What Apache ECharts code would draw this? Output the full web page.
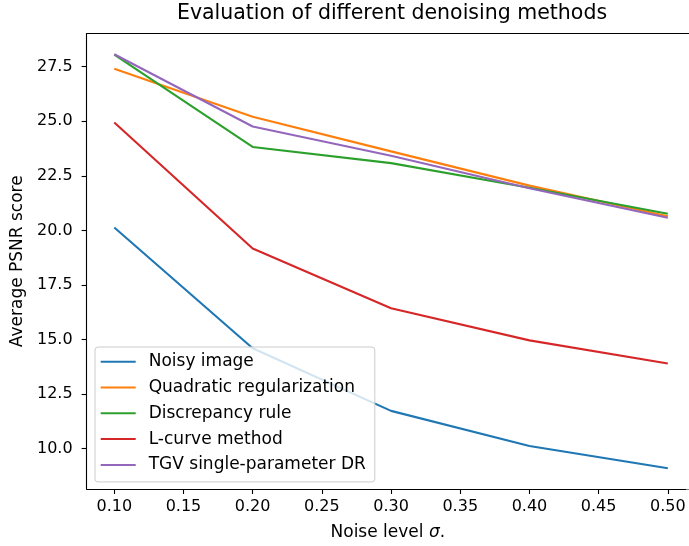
<!DOCTYPE html>
<html>
<head>
<meta charset="utf-8">
<script src="https://cdn.jsdelivr.net/npm/echarts@6/dist/echarts.min.js"></script>
<style>
  html, body { margin: 0; padding: 0; background: #fff; }
  #chart-one { width: 689px; height: 546px; }
</style>
</head>
<body>
<div id="chart-one"></div>
<script>
// noise levels (x) and average PSNR per method
var noiseLevels = [0.1, 0.2, 0.3, 0.4, 0.5];
var noisyImage = [20.13, 14.6, 11.73, 10.12, 9.1];
var quadraticReg = [27.41, 25.21, 23.62, 22.05, 20.65];
var discrepancyRule = [28.05, 23.82, 23.08, 21.95, 20.76];
var lCurve = [24.94, 19.17, 16.43, 14.96, 13.9];
var tgvDR = [28.07, 24.76, 23.42, 21.93, 20.58];

var seriesNames = ['Noisy image', 'Quadratic regularization', 'Discrepancy rule', 'L-curve method', 'TGV single-parameter DR'];
var seriesColors = ['#1f77b4', '#ff7f0e', '#2ca02c', '#d62728', '#9467bd'];

var xTicks = [0.10, 0.15, 0.20, 0.25, 0.30, 0.35, 0.40, 0.45, 0.50];
var yTicks = [10.0, 12.5, 15.0, 17.5, 20.0, 22.5, 25.0, 27.5];

var font = 'DejaVu Sans';
var allSeries = [noisyImage, quadraticReg, discrepancyRule, lCurve, tgvDR];

// x range: figure is cropped on the right, so the axis runs past the last tick a bit
var xMin = 0.08, xMax = 0.5153;
var yMin = 8.15, yMax = 29.02;

var myChart = echarts.init(document.getElementById('chart-one'));

myChart.setOption({
    animation: false,
    textStyle: { fontFamily: font },
    title: {
        text: 'Evaluation of different denoising methods',
        left: 392,
        textAlign: 'center',
        top: 3,
        padding: 0,
        textStyle: { fontFamily: font, fontSize: 20.5, fontWeight: 'normal', color: '#000' }
    },
    grid: {
        left: 86.6,
        right: 0,
        top: 33.5,
        bottom: 56,
        show: false
    },
    legend: {
        orient: 'vertical',
        left: 95,
        top: 347,
        icon: 'rect',
        itemWidth: 35,
        itemHeight: 2,
        itemGap: 5.8,
        padding: [4.7, 9, 7, 5.7],
        backgroundColor: 'rgba(255,255,255,0.8)',
        borderColor: '#cccccc',
        borderWidth: 1,
        borderRadius: 3,
        textStyle: { fontFamily: font, fontSize: 17, color: '#000', lineHeight: 20, padding: [0, 0, 0, 8] },
        data: seriesNames
    },
    xAxis: {
        type: 'value',
        min: xMin,
        max: xMax,
        name: 'Noise level {i|σ}.',
        nameLocation: 'middle',
        nameGap: 35,
        nameTextStyle: {
            fontFamily: font, fontSize: 17, color: '#000',
            rich: { i: { fontFamily: font, fontSize: 17, fontStyle: 'italic', color: '#000' } }
        },
        splitLine: { show: false },
        axisLine: { lineStyle: { color: '#000', width: 1.1 } },
        axisTick: { length: 5, customValues: xTicks, lineStyle: { color: '#000', width: 1.1 } },
        axisLabel: {
            customValues: xTicks,
            margin: 10,
            fontFamily: font, fontSize: 16, color: '#000',
            formatter: function (v) { return v.toFixed(2); }
        }
    },
    yAxis: {
        type: 'value',
        min: yMin,
        max: yMax,
        name: 'Average PSNR score',
        nameLocation: 'middle',
        nameGap: 60,
        nameTextStyle: { fontFamily: font, fontSize: 17, color: '#000' },
        splitLine: { show: false },
        axisLine: { show: true, lineStyle: { color: '#000', width: 1.1 } },
        axisTick: { show: true, length: 5, customValues: yTicks, lineStyle: { color: '#000', width: 1.1 } },
        axisLabel: {
            customValues: yTicks,
            margin: 14,
            fontFamily: font, fontSize: 16, color: '#000',
            formatter: function (v) { return v.toFixed(1); }
        }
    },
    graphic: [{
        // top spine of the axes frame
        type: 'line',
        shape: { x1: 86.6, y1: 33.5, x2: 689, y2: 33.5 },
        style: { stroke: '#000', lineWidth: 1.1 },
        z: 3
    }, {
        // the right spine sits outside the cropped figure
        type: 'rect',
        shape: { x: 686, y: 34.5, width: 4, height: 455 },
        style: { fill: '#fff' },
        z: 10
    }],
    series: seriesNames.map(function (name, i) {
        return {
            name: name,
            type: 'line',
            symbol: 'none',
            color: seriesColors[i],
            lineStyle: { width: 2.1, color: seriesColors[i] },
            data: noiseLevels.map(function (x, j) { return [x, allSeries[i][j]]; })
        };
    })
});
</script>
</body>
</html>
